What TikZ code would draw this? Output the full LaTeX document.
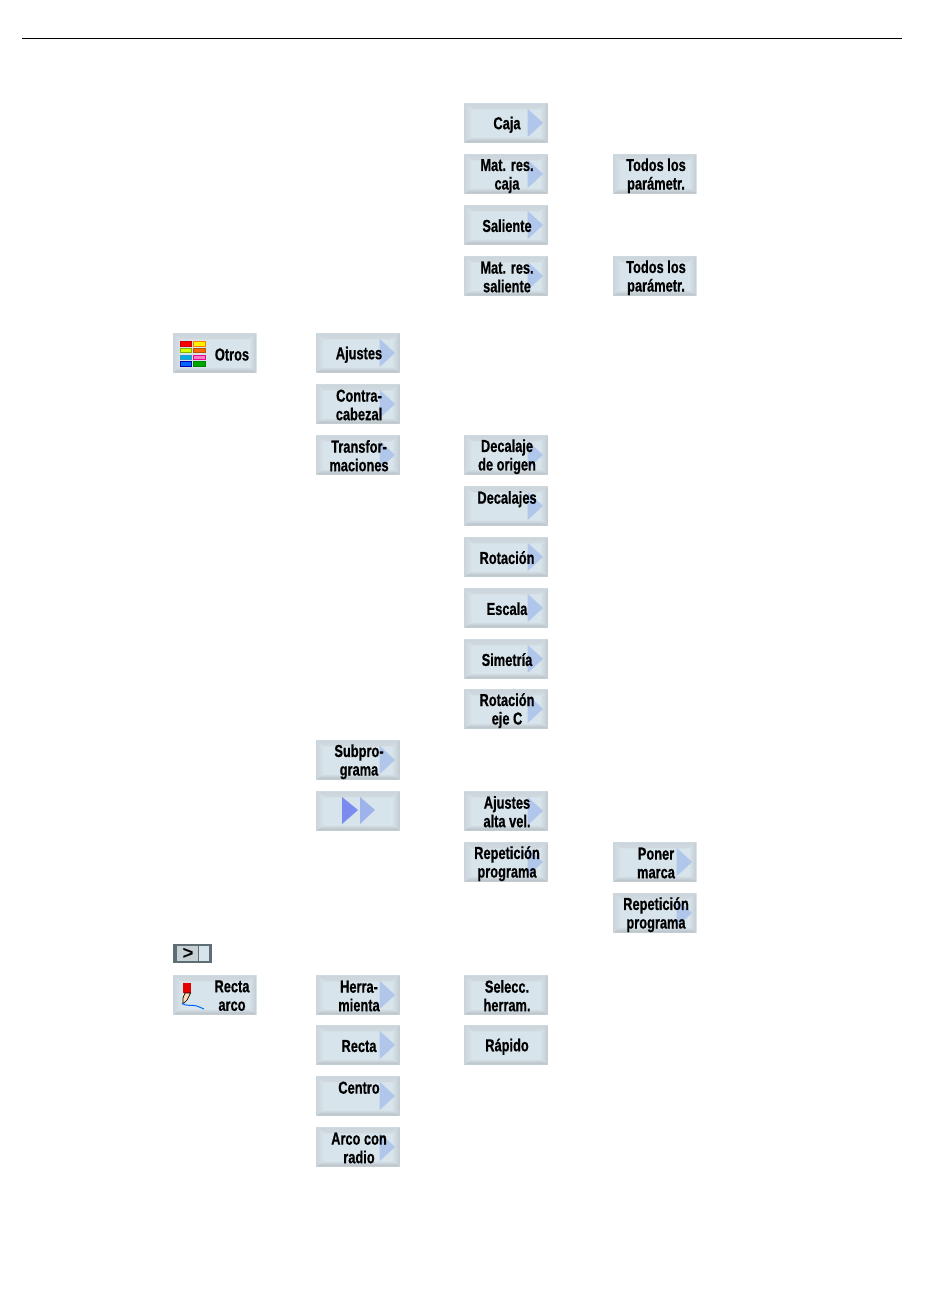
\documentclass[tikz,border=0pt]{standalone}
\usepackage{fontspec}
\newfontfamily\keyfont[FakeStretch=0.74,BoldFont={Liberation Sans Bold},BoldFeatures={FakeBold=0.6}]{Liberation Sans}
\newfontfamily\widefont[BoldFont={Liberation Sans Bold}]{Liberation Sans}
\definecolor{keyface}{HTML}{D8E4EB}
\definecolor{keyarrow}{HTML}{B0C6EA}
\definecolor{keyframe}{HTML}{5F6E75}
\newcommand{\keystrut}{\rule[-1.7pt]{0pt}{13.9pt}}
\newcommand{\kl}[2]{\keystrut\hspace*{1.5pt}#1\\\hspace*{1.5pt}#2}
\newcommand{\ks}[1]{\keystrut\hspace*{1.5pt}#1}
\newcommand{\keybevel}{%
 \shade[top color=keyface!85!gray,bottom color=keyface!50!white](path picture bounding box.north west)--(path picture bounding box.north east)--([xshift=-6pt,yshift=-4.5pt]path picture bounding box.north east)--([xshift=6pt,yshift=-4.5pt]path picture bounding box.north west)--cycle;
 \shade[left color=keyface!85!gray,right color=keyface](path picture bounding box.north west)--(path picture bounding box.south west)--([xshift=6pt,yshift=4.5pt]path picture bounding box.south west)--([xshift=6pt,yshift=-4.5pt]path picture bounding box.north west)--cycle;
 \shade[left color=keyface,right color=keyface!75!gray](path picture bounding box.north east)--(path picture bounding box.south east)--([xshift=-6pt,yshift=4.5pt]path picture bounding box.south east)--([xshift=-6pt,yshift=-4.5pt]path picture bounding box.north east)--cycle;
 \shade[top color=keyface,bottom color=keyface!60!gray](path picture bounding box.south west)--(path picture bounding box.south east)--([xshift=-6pt,yshift=4.5pt]path picture bounding box.south east)--([xshift=6pt,yshift=4.5pt]path picture bounding box.south west)--cycle;}
\tikzset{
 softlabel/.style={inner sep=0pt,align=center,font=\keyfont\bfseries\fontsize{13}{13.9}\selectfont,
  execute at end node={\keystrut}},
 softkey/.style={softlabel,anchor=north west,minimum width=62.6pt,minimum height=29.5pt,
  fill=keyface,path picture={\keybevel}},
 softarrow/.style={softkey,path picture={\keybevel
  \fill[keyarrow]([xshift=-15pt,yshift=10.5pt]path picture bounding box.east)--([xshift=-3.5pt]path picture bounding box.east)--([xshift=-15pt,yshift=-10.5pt]path picture bounding box.east)--cycle;}},
 swatch/.style 2 args={draw=#1,fill=#2,line width=0.5pt}
}
\begin{document}
\begin{tikzpicture}[x=0.75pt,y=-0.75pt]
 \useasboundingbox (0,0) rectangle (950,1301);
 \draw[line width=0.75pt] (22,38.5)--(902,38.5);
 % column 3, top
 \node[softarrow] (caja) at (464,103) {\ks{Caja}};
 \node[softarrow] (matcaja) at (464,154) {\kl{Mat. res.}{caja}};
 \node[softkey] (todoscaja) at (613,154) {\kl{Todos los}{parámetr.}};
 \node[softarrow] (saliente) at (464,205) {\ks{Saliente}};
 \node[softarrow] (matsaliente) at (464,256) {\kl{Mat. res.}{saliente}};
 \node[softkey] (todossaliente) at (613,256) {\kl{Todos los}{parámetr.}};
 % otros
 \node[softkey] (otros) at (173,333) {};
 \node[softlabel] (otrostxt) at (232,353.5) {\keystrut Otros};
 \fill[swatch={red!80!black}{red}] (180,341) rectangle (191,346.7);
 \fill[swatch={orange}{yellow}] (193.5,341) rectangle (205,346.7);
 \fill[swatch={lime!70!black}{lime!70!yellow}] (180,348) rectangle (191,352.7);
 \fill[swatch={orange!70!black}{orange!80!red}] (193.5,348) rectangle (205,352.7);
 \fill[swatch={cyan!80!black}{cyan!90!green}] (180,355.3) rectangle (191,359.7);
 \fill[swatch={magenta}{magenta!50!white}] (193.5,355.3) rectangle (205,359.7);
 \fill[swatch={blue!70!black}{blue!60!cyan}] (180,361) rectangle (191,366.7);
 \fill[swatch={green!50!black}{green!65!black}] (193.5,361) rectangle (205,366.7);
 \node[softarrow] (ajustes) at (316,333) {\ks{Ajustes}};
 \node[softarrow] (contra) at (316,384) {\kl{Contra-}{cabezal}};
 \node[softarrow] (transfor) at (316,435) {\kl{Transfor-}{maciones}};
 \node[softarrow] (decorigen) at (464,435) {\kl{Decalaje}{de origen}};
 \node[softarrow] (decalajes) at (464,486) {\kl{Decalajes}{\mbox{}}};
 \node[softarrow] (rotacion) at (464,537) {\ks{Rotación}};
 \node[softarrow] (escala) at (464,588) {\ks{Escala}};
 \node[softarrow] (simetria) at (464,639) {\ks{Simetría}};
 \node[softarrow] (rotejec) at (464,689) {\kl{Rotación}{eje C}};
 \node[softarrow] (subpro) at (316,740) {\kl{Subpro-}{grama}};
 \node[softkey] (mas) at (316,791) {};
 \fill[keyarrow!70!blue] (342,797)--(358,810)--(342,824)--cycle;
 \fill[keyarrow!90!blue] (360,797)--(375,810)--(360,824)--cycle;
 \node[softarrow] (altavel) at (464,791) {\kl{Ajustes}{alta vel.}};
 \node[softarrow] (reppro) at (464,842) {\kl{Repetición}{programa}};
 \node[softarrow] (poner) at (613,842) {\kl{Poner}{marca}};
 \node[softarrow] (reppro2) at (613,893) {\kl{Repetición}{programa}};
 % small key
 \fill[keyframe] (173,944) rectangle (212,963);
 \fill[keyface!80!gray] (177,946) rectangle (198,961);
 \fill[keyface] (199,946) rectangle (209,961);
 \node[font=\widefont\bfseries\fontsize{14}{14}\selectfont,inner sep=0pt] (mayor) at (188,953.5) {>};
 % recta arco
 \node[softkey] (rectaarco) at (173,975) {};
 \node[softlabel] (rectatxt) at (232,994.5) {\keystrut Recta\\arco};
 \fill[red!90!black] (183,983) rectangle (191,993);
 \draw[fill=orange!30!white,line width=0.5pt] (185,993)--(190.5,993)--(187,1000)--(183,1004)--(183,998)--cycle;
 \draw[blue!60!cyan,line width=0.75pt] (182,1003) .. controls (186,1007) and (190,1004) .. (197,1006)--(204,1009);
 \node[softarrow] (herra) at (316,975) {\kl{Herra-}{mienta}};
 \node[softkey] (selecc) at (464,975) {\kl{Selecc.}{herram.}};
 \node[softarrow] (recta) at (316,1025) {\ks{Recta}};
 \node[softkey] (rapido) at (464,1025) {\ks{Rápido}};
 \node[softarrow] (centro) at (316,1076) {\kl{Centro}{\mbox{}}};
 \node[softarrow] (arco) at (316,1127) {\kl{Arco con}{radio}};
\end{tikzpicture}
\end{document}
